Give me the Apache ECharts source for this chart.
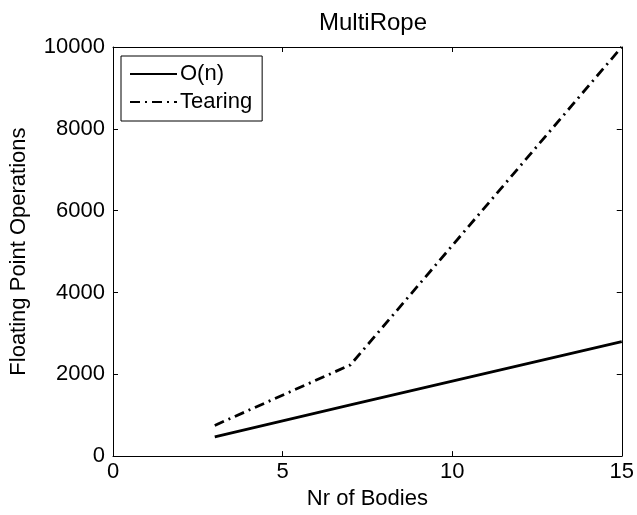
<!DOCTYPE html>
<html>
<head>
<meta charset="utf-8">
<script src="https://cdn.jsdelivr.net/npm/echarts@6/dist/echarts.min.js"></script>
<style>
html, body { margin: 0; padding: 0; background: #fff; }
#main { width: 637px; height: 515px; }
</style>
</head>
<body>
<div id="main"></div>
<script>
// bodies on x axis
var bodies = [3, 7, 15]
var onValues = [470, 1250, 2800]
var tearingValues = [750, 2230, 10000]
var xTicks = [0, 5, 10, 15]
var yTicks = [0, 2000, 4000, 6000, 8000, 10000]

var font = 'Liberation Sans, Arial, sans-serif'

function pairs(xs, ys) {
  var out = []
  for (var i = 0; i < xs.length; i++) out.push([xs[i], ys[i]])
  return out
}

var chart = echarts.init(document.getElementById('main'))

var axisCommon = {
  axisLine: { show: true, onZero: false, lineStyle: { color: '#000', width: 1 } },
  axisTick: { show: true, inside: true, length: 5, lineStyle: { color: '#000' } },
  splitLine: { show: false }
}

var option = {
  animation: false,
  backgroundColor: '#fff',
  title: {
    text: 'MultiRope',
    left: 368, top: 6, textAlign: 'center',
    textStyle: { fontFamily: font, fontSize: 24, fontWeight: 'normal', color: '#000' }
  },
  grid: { left: 113, right: 11, top: 47, bottom: 54, containLabel: false },
  legend: {
    left: 121, top: 56,
    orient: 'vertical',
    data: ['O(n)', 'Tearing'],
    backgroundColor: '#fff',
    borderColor: '#000', borderWidth: 1,
    padding: [7, 10, 8, 8],
    itemGap: 6,
    itemWidth: 47, itemHeight: 14,
    itemStyle: { opacity: 0 },
    textStyle: { fontFamily: font, fontSize: 22, color: '#000', padding: [0, 0, 0, -2] }
  },
  xAxis: [
    Object.assign({
      type: 'value', min: 0, max: 15, interval: 5, position: 'bottom',
      name: 'Nr of Bodies', nameLocation: 'middle', nameGap: 30,
      nameTextStyle: { fontFamily: font, fontSize: 22, color: '#000' },
      axisLabel: { fontFamily: font, fontSize: 22, color: '#000', margin: 5 }
    }, axisCommon),
    Object.assign({
      type: 'value', min: 0, max: 15, interval: 5, position: 'top',
      axisLabel: { show: false }
    }, axisCommon)
  ],
  yAxis: [
    Object.assign({
      type: 'value', min: 0, max: 10000, interval: 2000, position: 'left',
      name: 'Floating Point Operations', nameLocation: 'middle', nameGap: 83,
      nameTextStyle: { fontFamily: font, fontSize: 22, color: '#000' },
      axisLabel: { fontFamily: font, fontSize: 22, color: '#000', margin: 8,
        formatter: function(v) { return String(v) } }
    }, axisCommon),
    Object.assign({
      type: 'value', min: 0, max: 10000, interval: 2000, position: 'right',
      axisLabel: { show: false }
    }, axisCommon)
  ],
  series: [
    {
      name: 'O(n)', type: 'line', symbol: 'none',
      data: pairs(bodies, onValues),
      lineStyle: { color: '#000', width: 2.8, type: 'solid' },
      itemStyle: { color: '#000' }
    },
    {
      name: 'Tearing', type: 'line', symbol: 'none',
      data: pairs(bodies, tearingValues),
      lineStyle: { color: '#000', width: 2.8, type: [10, 5, 2, 5] },
      itemStyle: { color: '#000' }
    }
  ]
}

chart.setOption(option)
</script>
</body>
</html>
